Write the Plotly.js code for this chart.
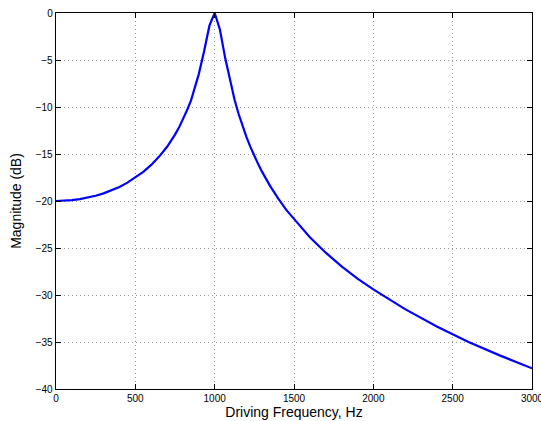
<!DOCTYPE html>
<html>
<head>
<meta charset="utf-8">
<script src="https://cdn.plot.ly/plotly-3.0.1.min.js"></script>
<style>html,body{margin:0;padding:0;background:#fff;}#chart{width:541px;height:421px;}</style>
</head>
<body>
<div id="chart"></div>
<script>
// Driving frequency (Hz)
var frequencyHz = [0, 50, 100, 150, 200, 250, 300, 350, 400, 450, 500, 550, 600, 650, 700, 725, 750, 775, 800, 825, 850, 875, 900, 933, 967, 1000,
  1033, 1067, 1100, 1125, 1150, 1175, 1200, 1225, 1250, 1275, 1300, 1350, 1400, 1450, 1500, 1600, 1700, 1800, 1900, 2000,
  2200, 2400, 2600, 2800, 3000];
// Magnitude (dB)
var magnitudeDb = [-20.0, -19.98, -19.91, -19.80, -19.65, -19.44, -19.19, -18.87, -18.50, -18.05, -17.52, -16.90, -16.16, -15.28, -14.23, -13.62, -12.94, -12.19, -11.33, -10.37, -9.35, -8.0, -6.5, -4.1, -1.35, 0.0,
  -1.75, -4.85, -7.5, -9.2, -10.69, -12.01, -13.18, -14.24, -15.21, -16.10, -16.93, -18.42, -19.72, -20.92, -21.9, -23.85, -25.5, -26.95, -28.25, -29.4,
  -31.5, -33.35, -35.0, -36.45, -37.8];
var xTicks = [0, 500, 1000, 1500, 2000, 2500, 3000];
var yTicks = [0, -5, -10, -15, -20, -25, -30, -35, -40];

var fam = 'Liberation Sans, Arial, sans-serif';
var axisCommon = {
  showline: true, linecolor: '#000', linewidth: 1.3, mirror: 'ticks',
  ticks: 'inside', ticklen: 5, tickcolor: '#000', tickwidth: 1,
  showgrid: true, gridcolor: '#9a9a9a', griddash: '1px,3px', gridwidth: 1,
  zeroline: false, tickfont: {size: 10, family: fam, color: '#000'},
  automargin: false
};
Plotly.newPlot('chart', [{
  x: frequencyHz, y: magnitudeDb, type: 'scatter', mode: 'lines',
  line: {color: '#0000ff', width: 2.2, shape: 'linear'}, hoverinfo: 'none'
}], {
  width: 541, height: 421,
  margin: {l: 56, r: 9, t: 13, b: 32},
  paper_bgcolor: '#fff', plot_bgcolor: '#fff',
  showlegend: false,
  font: {family: fam, size: 10, color: '#000'},
  xaxis: Object.assign({}, axisCommon, {
    range: [0, 3000], tickvals: xTicks, ticktext: xTicks.map(String),
    ticklabeloverflow: 'allow',
    title: {text: 'Driving Frequency, Hz', font: {size: 14, family: fam, color: '#000'}, standoff: 3}
  }),
  yaxis: Object.assign({}, axisCommon, {
    range: [-40, 0], tickvals: yTicks,
    title: {text: 'Magnitude (dB)', font: {size: 14, family: fam, color: '#000'}, standoff: 10}
  })
}, {displayModeBar: false, staticPlot: true});
</script>
</body>
</html>
